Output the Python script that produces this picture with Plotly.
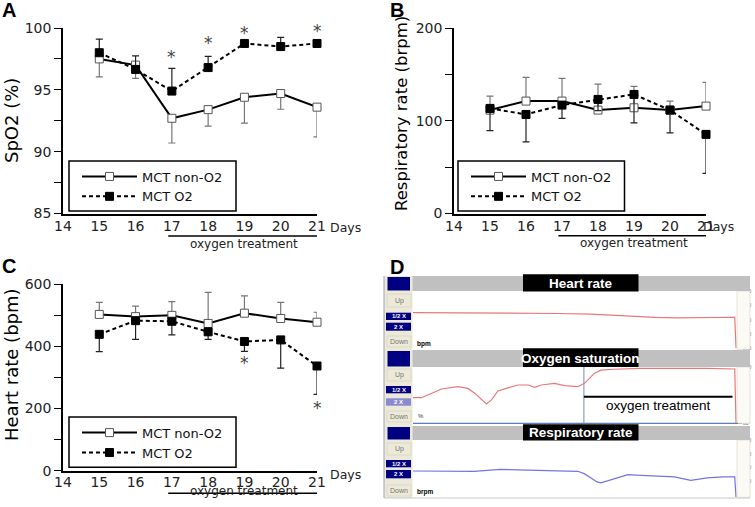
import plotly.graph_objects as go

W, H = 755, 507

# ---------------- data ----------------
days = [15, 16, 17, 18, 19, 20, 21]
day_ticks = [14, 15, 16, 17, 18, 19, 20, 21]
series_names = ["MCT non-O2", "MCT O2"]

# Panel A: SpO2 (%)
spo2_non = [97.5, 97.0, 92.7, 93.4, 94.4, 94.7, 93.6]
spo2_non_sd = [1.45, 1.08, 2.0, 1.33, 2.1, 1.27, 2.4]
spo2_o2 = [98.0, 96.65, 94.9, 96.8, 98.75, 98.5, 98.75]
spo2_o2_sd = [1.1, 1.1, 1.83, 0.9, 0.2, 0.74, 0.2]
spo2_sig_days = [17, 18, 19, 20, 21]
spo2_sig_y = [97.77, 98.85, 99.64, 100.08, 99.81]
spo2_ticks = [85, 87.5, 90, 92.5, 95, 97.5, 100]
spo2_ticktext = ["85", "", "90", "", "95", "", "100"]

# Panel B: respiratory rate (brpm)
rr_non = [111.5, 121.2, 121.2, 111.5, 114.0, 111.5, 115.8]
rr_non_sd = [15.0, 25.6, 24.5, 28.0, 23.0, 9.7, 25.6]
rr_o2 = [113.3, 106.8, 116.9, 123.0, 128.4, 111.5, 85.3]
rr_o2_sd = [24.0, 29.5, 14.4, 12.0, 30.6, 24.5, 42.0]
rr_ticks = [0, 50, 100, 150, 200]
rr_ticktext = ["0", "", "100", "", "200"]

# Panel C: heart rate (bpm)
hr_non = [503, 496, 500, 474, 507, 490, 478]
hr_non_sd = [39, 34, 44, 100, 56, 52, 32]
hr_o2 = [439, 483, 481, 447, 416, 421, 337]
hr_o2_sd = [56, 60, 44, 24, 32, 91, 91]
hr_sig_days = [19, 21]
hr_sig_y = [349, 205]
hr_ticks = [0, 100, 200, 300, 400, 500, 600]
hr_ticktext = ["0", "", "200", "", "400", "", "600"]

# Panel D: monitor traces (time in % of recording)
mon_hr_t = [0, 15, 30, 45, 55, 62, 68, 75, 82, 90, 99.6, 100]
mon_hr = [450, 449, 447, 444, 440, 432, 424, 417, 414, 418, 418, 205]
mon_spo2_t = [0, 2.6, 4.6, 8.8, 13.9, 17, 19.1, 21.2, 22.7, 24.3, 26.3, 29.4, 32.5,
              35.6, 37.7, 39.7, 43.8, 46.9, 51, 53.1, 56.2, 58.2, 62.3, 70.6, 80.9,
              86, 91.1, 99.6, 100]
mon_spo2 = [89.1, 89.1, 90.05, 92.2, 93.0, 92.4, 90.7, 88.3, 86.9, 88.3, 91.5, 92.6,
            93.6, 93.6, 92.8, 93.6, 94.2, 93.4, 93.0, 94.2, 97.8, 98.9, 99.2, 99.5,
            99.5, 99.75, 99.5, 99.3, 80.0]
mon_rr_t = [0, 19, 27, 39, 51, 53, 57, 58.2, 62.3, 66.5, 70.6, 80.9, 86, 91.1, 96, 99.6, 100]
mon_rr = [176, 174, 188, 181, 174, 157, 97, 90, 121, 150, 145, 133, 109, 126, 133, 133, -14]
treat_start, treat_end = 52.9, 98.9


def PX(x):
    return x / W


def PY(y):
    return 1 - y / H


FONT = "DejaVu Sans"
fig = go.Figure()

panels = [
    dict(ax="", non=spo2_non, non_sd=spo2_non_sd, o2=spo2_o2, o2_sd=spo2_o2_sd,
         non_up=False, legend="legend"),
    dict(ax="2", non=rr_non, non_sd=rr_non_sd, o2=rr_o2, o2_sd=rr_o2_sd,
         non_up=True, legend="legend2"),
    dict(ax="3", non=hr_non, non_sd=hr_non_sd, o2=hr_o2, o2_sd=hr_o2_sd,
         non_up=True, legend="legend3"),
]
zeros = [0] * len(days)
for p in panels:
    xa, ya = "x" + p["ax"], "y" + p["ax"]
    up = p["non_up"]
    fig.add_trace(go.Scatter(
        x=days, y=p["non"], xaxis=xa, yaxis=ya, name=series_names[0],
        legend=p["legend"], mode="lines+markers", cliponaxis=False,
        line=dict(color="black", width=2),
        marker=dict(symbol="square", size=8, color="white",
                    line=dict(color="#555555", width=1)),
        error_y=dict(type="data", symmetric=False,
                     array=p["non_sd"] if up else zeros,
                     arrayminus=zeros if up else p["non_sd"],
                     color="#777777", thickness=1.2, width=3.5),
    ))
    fig.add_trace(go.Scatter(
        x=days, y=p["o2"], xaxis=xa, yaxis=ya, name=series_names[1],
        legend=p["legend"], mode="lines+markers", cliponaxis=False,
        line=dict(color="black", width=2, dash="4px,3px"),
        marker=dict(symbol="square", size=8, color="black",
                    line=dict(color="black", width=1)),
        error_y=dict(type="data", symmetric=False,
                     array=zeros if up else p["o2_sd"],
                     arrayminus=p["o2_sd"] if up else zeros,
                     color="#222222", thickness=1.2, width=3.5),
    ))

# Panel D traces
mon = [
    ("4", mon_hr_t, mon_hr, "#e87878"),
    ("5", mon_spo2_t, mon_spo2, "#e87878"),
    ("6", mon_rr_t, mon_rr, "#7474e0"),
]
for ax, t, v, c in mon:
    fig.add_trace(go.Scatter(x=t, y=v, xaxis="x" + ax, yaxis="y" + ax, mode="lines",
                             line=dict(color=c, width=1.2), showlegend=False,
                             hoverinfo="skip"))

# ---------------- axes ----------------
xdomA = [PX(63), PX(317)]
xdomB = [PX(454), PX(706)]
ydomAB = [PY(213.5), PY(28)]
ydomC = [PY(470.7), PY(284.3)]


def xaxis_cfg(dom, anchor, standoff):
    return dict(domain=dom, anchor=anchor, range=[14, 21], tickvals=day_ticks,
                showline=True, linecolor="black", linewidth=1.5, ticks="",
                showgrid=False, zeroline=False, automargin=False,
                ticklabelstandoff=standoff,
                tickfont=dict(family=FONT, size=14, color="#222"))


def yaxis_cfg(dom, anchor, rng, tv, tt):
    return dict(domain=dom, anchor=anchor, range=rng, tickvals=tv, ticktext=tt,
                showline=True, linecolor="black", linewidth=1.5, ticks="outside",
                ticklen=7, tickwidth=1.2, tickcolor="black", showgrid=False,
                zeroline=False, automargin=False,
                tickfont=dict(family=FONT, size=14, color="#222"))


layout = dict(
    template="none",
    width=W, height=H, margin=dict(l=0, r=0, t=0, b=0, pad=0, autoexpand=False),
    paper_bgcolor="white", plot_bgcolor="white",
    xaxis=xaxis_cfg(xdomA, "y", -1),
    yaxis=yaxis_cfg(ydomAB, "x", [85, 100], spo2_ticks, spo2_ticktext),
    xaxis2=xaxis_cfg(xdomB, "y2", -1),
    yaxis2=yaxis_cfg(ydomAB, "x2", [0, 200], rr_ticks, rr_ticktext),
    xaxis3=xaxis_cfg(xdomA, "y3", -2),
    yaxis3=yaxis_cfg(ydomC, "x3", [0, 600], hr_ticks, hr_ticktext),
)

# panel D axes
xdomD = [PX(413), PX(737)]
d_axes = [
    ("4", [PY(349.3), PY(291)], [196, 600], [200, 300, 400, 500, 600], 50),
    ("5", [PY(423.3), PY(367)], [80, 100], [80, 85, 90, 95, 100], 1),
    ("6", [PY(497.3), PY(440)], [-14, 400], [0, 100, 200, 300, 400], 25),
]
for ax, ydom, rng, tv, mdt in d_axes:
    layout["xaxis" + ax] = dict(domain=xdomD, anchor="y" + ax, range=[0, 100.3],
                                visible=False, automargin=False)
    layout["yaxis" + ax] = dict(domain=ydom, anchor="x" + ax, range=rng, side="right",
                                tickvals=tv, ticks="outside", ticklen=4, tickwidth=0.8,
                                tickcolor="#888", showgrid=False, zeroline=False,
                                showline=False, automargin=False,
                                tickfont=dict(family="Liberation Sans", size=5, color="#666"),
                                minor=dict(ticks="outside", ticklen=2, dtick=mdt,
                                           tickcolor="#aaa", tickwidth=0.6))

# legends (box drawn as a shape, entries from plotly's legend)
legend_boxes = [("legend", 69, 161, 236, 211), ("legend2", 458, 161, 624.5, 211),
                ("legend3", 69, 417, 236, 467.3)]
for key, bx0, by0, bx1, by1 in legend_boxes:
    layout[key] = dict(x=PX(bx0 + 8), y=PY((by0 + by1) / 2 + 0.5), xanchor="left",
                       yanchor="middle", bgcolor="rgba(0,0,0,0)", borderwidth=0,
                       font=dict(family=FONT, size=13, color="#111"),
                       itemwidth=55, tracegroupgap=0)

fig.update_layout(**layout)

# ---------------- annotations & shapes ----------------
ann = []
shapes = []

for key, bx0, by0, bx1, by1 in legend_boxes:
    shapes.append(dict(type="rect", xref="paper", yref="paper", x0=PX(bx0), x1=PX(bx1),
                       y0=PY(by1), y1=PY(by0), fillcolor="white",
                       line=dict(color="black", width=1.5), layer="above"))

# panel letters
for txt, x, y in [("A", 0, 10), ("B", 388, 10), ("C", 0, 266), ("D", 388, 267)]:
    ann.append(dict(text="<b>%s</b>" % txt, x=PX(x), y=PY(y), xref="paper", yref="paper",
                    xanchor="left", yanchor="middle", showarrow=False,
                    font=dict(family="Liberation Sans", size=20, color="black")))

# y titles
for txt, x, y, s in [("SpO2 (%)", 11, 121, 18), ("Respiratory rate (brpm)", 401, 114, 16.5),
                     ("Heart rate (bpm)", 11, 365, 18)]:
    ann.append(dict(text=txt, x=PX(x), y=PY(y), xref="paper", yref="paper", textangle=-90,
                    showarrow=False, xanchor="center", yanchor="middle",
                    font=dict(family=FONT, size=s, color="black")))

# "Days" + oxygen treatment bars
for xa, days_x, axis_y, toff in [("x", 345, 213.5, 30), ("x2", 736, 213.3, 30),
                                 ("x3", 345, 470.7, 29.5)]:
    ann.append(dict(text="Days", x=PX(days_x), y=PY(axis_y + 13.5), xref="paper",
                    yref="paper", showarrow=False,
                    font=dict(family=FONT, size=12.5, color="#222")))
    shapes.append(dict(type="line", xref=xa, yref="paper", x0=16.9, x1=21,
                       y0=PY(axis_y + 22.5), y1=PY(axis_y + 22.5),
                       line=dict(color="black", width=1.5)))
    ann.append(dict(text="oxygen treatment", x=19, y=PY(axis_y + toff), xref=xa,
                    yref="paper", showarrow=False,
                    font=dict(family=FONT, size=12, color="#222")))

# significance asterisks
for xa, ya, dd, yy in [("x", "y", spo2_sig_days, spo2_sig_y), ("x3", "y3", hr_sig_days, hr_sig_y)]:
    for d, v in zip(dd, yy):
        ann.append(dict(text="*", x=d, y=v, xref=xa, yref=ya, showarrow=False,
                        yshift=-1, font=dict(family=FONT, size=17, color="#444")))


# ---- panel D chrome ----
def rect(x0, y0, x1, y1, fill, line=None, lw=0):
    shapes.append(dict(type="rect", xref="paper", yref="paper", x0=PX(x0), x1=PX(x1),
                       y0=PY(y1), y1=PY(y0), fillcolor=fill,
                       line=dict(color=line if line else fill, width=lw), layer="above"))


def text(t, x, y, size, color, bold=False, anchor="center", fam="Liberation Sans"):
    ann.append(dict(text=("<b>%s</b>" % t) if bold else t, x=PX(x), y=PY(y), xref="paper",
                    yref="paper", xanchor=anchor, yanchor="middle", showarrow=False,
                    font=dict(family=fam, size=size, color=color)))


BEIGE = "#ece9d8"
NAVY = "#000080"
rect(384, 276, 412.5, 498, BEIGE)
# right scale strips
for y0, y1 in [(291, 349.3), (367, 423.3), (440, 497.3)]:
    rect(737, y0, 750, y1, "#fbfaf4", "#d8d4c0", 0.6)
# headers
for (y0, y1), title in zip([(276, 291), (350, 367), (426, 440)],
                           ["Heart rate", "Oxygen saturation", "Respiratory rate"]):
    rect(412.5, y0, 750, y1, "#c0c0c0")
    rect(387.5, y0 + 1, 410, y1 - 0.5, NAVY)
    rect(523, y0 - 1.7, 638.5, y1 + 0.5 if y1 - y0 < 16 else y1, "black")
    text(title, 580.5, (y0 + y1) / 2 - 0.5, 13.5, "white", bold=True)

# buttons
btns = [
    (294, 307, 312.7, 320, 322.7, 330.7, 336, 347, NAVY),
    (369, 381, 386, 393.3, 398.3, 405.7, 411, 422, "#8a8ad0"),
    (443, 455, 460, 467.3, 470, 478.3, 485, 496, NAVY),
]
for u0, u1, h0, h1, t0, t1, d0, d1, c2 in btns:
    rect(387, u0, 411, u1, BEIGE, "#d4d0c0", 0.6)
    text("Up", 399, (u0 + u1) / 2, 7, "#777")
    rect(386, h0, 411, h1, NAVY)
    text("<b>1/2 X</b>", 398.5, (h0 + h1) / 2, 6, "white")
    rect(386, t0, 411, t1, c2)
    text("<b>2 X</b>", 398.5, (t0 + t1) / 2, 6, "white")
    rect(387, d0, 411, d1, BEIGE, "#d4d0c0", 0.6)
    text("Down", 399, (d0 + d1) / 2, 7, "#777")

text("bpm", 415, 343.7, 6.5, "black", bold=True, anchor="left")
text("%", 416, 416, 6, "#333", anchor="left")
text("brpm", 415, 491.7, 6.5, "black", bold=True, anchor="left")

# frame lines
shapes.append(dict(type="line", xref="paper", yref="paper", x0=PX(384), x1=PX(384),
                   y0=PY(498), y1=PY(276), line=dict(color="#9aa4c0", width=1)))
shapes.append(dict(type="line", xref="paper", yref="paper", x0=PX(384), x1=PX(750),
                   y0=PY(498), y1=PY(498), line=dict(color="#c8c8c8", width=1)))
shapes.append(dict(type="line", xref="paper", yref="paper", x0=PX(413), x1=PX(738),
                   y0=PY(423.3), y1=PY(423.3), line=dict(color="#5a7fb0", width=1.2)))

# oxygen-treatment markers in SpO2 monitor
shapes.append(dict(type="line", xref="x5", yref="paper", x0=treat_start, x1=treat_start,
                   y0=PY(423.3), y1=PY(367), line=dict(color="#8aa0c0", width=1.2)))
shapes.append(dict(type="line", xref="x5", yref="y5", x0=treat_start, x1=treat_end,
                   y0=89.45, y1=89.45, line=dict(color="black", width=2)))
ann.append(dict(text="oxygen treatment", x=(treat_start + treat_end) / 2, y=86.25,
                xref="x5", yref="y5", showarrow=False,
                font=dict(family="Liberation Sans", size=13.5, color="black")))

fig.update_layout(annotations=ann, shapes=shapes)
fig.write_html("out.html", config={"displayModeBar": False},
               post_script="document.body.style.margin='0';document.body.style.overflow='hidden';")
